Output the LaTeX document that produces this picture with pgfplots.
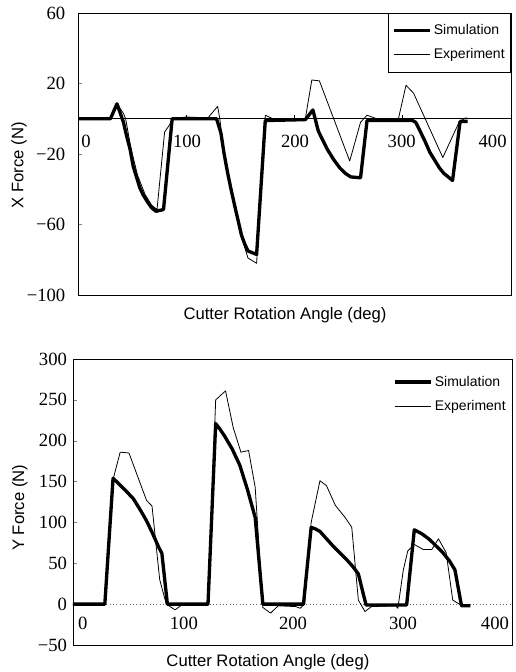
\documentclass[border=0pt]{standalone}
\usepackage{pgfplots}
\usepackage{pgfplotstable}
\pgfplotsset{compat=1.18}
\usepackage{fontspec}
\setmainfont{Liberation Serif}
\setsansfont{Liberation Sans}
\protected\def\mn{\char"2212\relax}

% X force, simulation
\pgfplotstableread{
a f
0 0
30 0
36 8.5
42 -2
45 -10
48 -17
51 -27
54 -33
57 -39
60 -43
64 -47
68 -50.5
72 -52.5
79 -51.5
87 0
128 0
132 -8
135 -20
138 -30
141 -39
145 -50
148 -58
151 -66
154 -71
157 -75
165 -77
173 -1
210 -0.5
217 5
222 -7
226 -12
230 -17
236 -23
242 -28
247 -31
252 -33
261 -33.5
267 -1
309 -1
312 -2
316 -7
320 -12
325 -19
330 -24
334 -28
338 -31
346 -35
353 -1.5
360 -1.5
}\simx
% X force, experiment
\pgfplotstableread{
a f
0 0.5
30 0
36 8.5
42 3
44 0
49 -17
55 -32
62 -43
68 -49
73 -51.5
80 -7.5
84 -4
88 0
100 1
120 0.5
129 7
131 0
136 -25
143 -46
150 -65
157 -79
165 -82
173 2
180 0
210 0
216 22
223 21.5
251 -24
261 -2
267 2
276 0
296 0
303 19
310 14.5
337 -22
352 -2
358 0.5
362 0
}\expx
% Y force, simulation
\pgfplotstableread{
a f
0 0
29 0
36.5 154
42 147
48 139
55 129
61 116
67 102
72 88
78 70
81 62
86 0
123 0
130 221
134 214
138 206
145 190
152 170
159 140
166 106
173 0
210 0
217 94
221 92
225 89
231 80
237 71
243 63
249 55
255 46
260 37
267 -1
304 -1
311 91
318 86
325 79
331 71
337 63
343 53
348 42
354 -2
362 -2
}\simy
% Y force, experiment
\pgfplotstableread{
a f
0 0
29 0
36 150
43 186
51 185
67 127
72 120
79 30
85 0
93 -7
99 -1
123 -1
130 250
139 261
146 216
153 186
160 188
166 143
173 -4
180 -11
187 -2
203 -3
207 -5
211 0
217 100
225 151
231 145
239 121
248 106
254 94
260 5
266 -9
272 -3
294 -2
296 -5
301 42
305 65
311 73
319 67
327 67
333 80
340 63
346 5
352 0
355 0
}\expy

\pgfplotsset{
  forceaxis/.style={
    scale only axis,
    xmin=0, xmax=400,
    xtick=\empty,
    ytick pos=left, tick align=inside, major tick length=3pt,
    axis line style={line width=0.7pt},
    yticklabel style={font=\fontsize{14}{14}\selectfont},
    label style={font=\sffamily\fontsize{12.5}{14}\selectfont},
    legend cell align=left,
    legend image code/.code={\draw[##1] (0pt,0pt) -- (27pt,0pt);},
    legend style={font=\sffamily\fontsize{10.5}{12}\selectfont,
      inner xsep=3pt, inner ysep=6.5pt, row sep=5pt, line width=0.5pt,
      nodes={inner xsep=1.5pt}},
  },
  sim/.style={black, line width=2.5pt, line join=round},
  exper/.style={black, line width=0.6pt, line join=round},
}
\newcommand{\ticklab}{\fontsize{14}{14}\selectfont}

\begin{document}
\begin{tikzpicture}[x=1pt,y=1pt]
\useasboundingbox (0,0) rectangle (386.25,-504);

\begin{axis}[forceaxis,
  at={(58.5pt,-221.25pt)}, anchor=south west,
  width=324.75pt, height=211.5pt,
  ymin=-100, ymax=60,
  ytick={-100,-60,-20,20,60},
  yticklabels={\mn100,\mn60,\mn20,20,60},
  yticklabel style={xshift=-6pt},
  xlabel={Cutter Rotation Angle (deg)},
  ylabel={X Force (N)},
  xlabel style={at={(axis description cs:0.478,-0.071)}, anchor=center},
  ylabel style={at={(axis description cs:-0.136,0.46)}, anchor=center},
  legend style={at={(rel axis cs:1,1)}, anchor=north east, draw=black, fill=white},
]
\addplot[black, line width=0.5pt, forget plot] coordinates {(0,0) (400,0)};
\addplot[sim] table[x=a, y=f] {\simx};
\addlegendentry{Simulation}
\addplot[exper] table[x=a, y=f] {\expx};
\addlegendentry{Experiment}
\pgfplotsinvokeforeach{100,200,300}{\draw[line width=0.5pt] (axis cs:#1,0) -- ([yshift=3pt]axis cs:#1,0);}
\node[font=\ticklab] at (axis cs:7.4,-13) {0};
\node[font=\ticklab] at (axis cs:100.7,-13) {100};
\node[font=\ticklab] at (axis cs:200.5,-13) {200};
\node[font=\ticklab] at (axis cs:299,-13) {300};
\node[font=\ticklab] at (axis cs:383,-13) {400};
\end{axis}

\begin{axis}[forceaxis,
  at={(54.75pt,-483.75pt)}, anchor=south west,
  width=329.25pt, height=214.5pt,
  ymin=-50, ymax=300,
  ytick={-50,0,50,100,150,200,250,300},
  yticklabels={\mn50,0,50,100,150,200,250,300},
  yticklabel style={xshift=-1pt},
  xlabel={Cutter Rotation Angle (deg)},
  ylabel={Y Force (N)},
  xlabel style={at={(axis description cs:0.444,-0.059)}, anchor=center},
  ylabel style={at={(axis description cs:-0.121,0.48)}, anchor=center},
  legend style={at={(rel axis cs:1,1)}, anchor=north east, yshift=-4pt, draw=none, fill=white},
]
\addplot[black!60, line width=0.5pt, dotted, forget plot] coordinates {(0,0) (400,0)};
\addplot[sim] table[x=a, y=f] {\simy};
\addlegendentry{Simulation}
\addplot[exper] table[x=a, y=f] {\expy};
\addlegendentry{Experiment}
\node[font=\ticklab] at (axis cs:9,-23.5) {0};
\node[font=\ticklab] at (axis cs:101,-23.5) {100};
\node[font=\ticklab] at (axis cs:200.5,-23.5) {200};
\node[font=\ticklab] at (axis cs:300.7,-23.5) {300};
\node[font=\ticklab] at (axis cs:384.5,-23.5) {400};
\end{axis}
\end{tikzpicture}
\end{document}
